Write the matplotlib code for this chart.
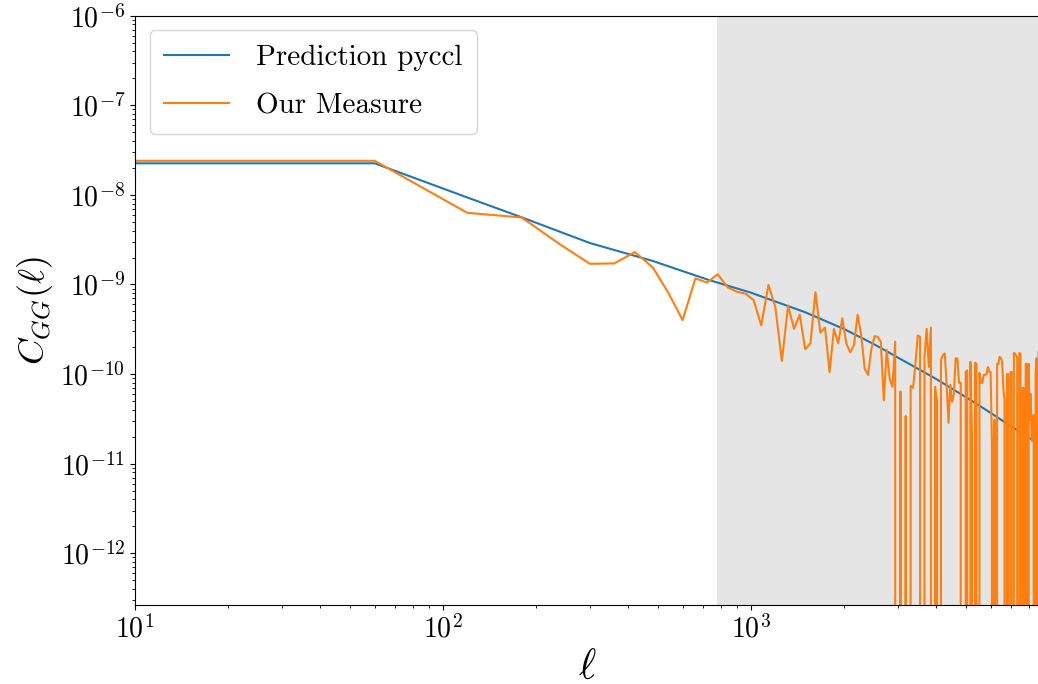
import matplotlib
matplotlib.use('Agg')
import numpy as np
import matplotlib.pyplot as plt

# --- style: LaTeX-like look with Computer Modern ---
plt.rcParams['font.family'] = 'serif'
plt.rcParams['font.serif'] = ['cmr10']
plt.rcParams['mathtext.fontset'] = 'cm'
plt.rcParams['axes.formatter.use_mathtext'] = True
plt.rcParams['axes.unicode_minus'] = False

# --- data ---
# prediction (pyccl), smooth curve
ell_pred = [0, 60, 120, 180, 300, 480, 720, 1000, 1500, 2000, 2500, 3000,
            4000, 5000, 6000, 7000, 8700]
cl_pred = [2.25e-8, 2.25e-8, 9.35e-9, 5.62e-9, 2.9e-9, 1.83e-9, 1.14e-9,
           8.1e-10, 4.9e-10, 3.2e-10, 2.17e-10, 1.53e-10, 8.8e-11, 5.5e-11,
           3.7e-11, 2.6e-11, 1.62e-11]

# measured spectrum, bins of width 60 in ell (negative values fall off the log axis)
ell_meas = np.arange(0, 8701, 60)
cl_meas = [
    2.4e-8, 2.4e-8, 6.3e-9, 5.6e-9, 2.8e-9, 1.7e-9, 1.72e-9, 2.3e-9, 1.55e-9, 8.0e-10,
    4.0e-10, 1.17e-9, 1.05e-9, 1.3e-9, 9.3e-10, 8.3e-10, 7.9e-10, 6.7e-10, 3.5e-10, 9.9e-10,
    5.6e-10, 1.4e-10, 5.8e-10, 3.2e-10, 4.6e-10, 1.9e-10, 2.2e-10, 8.2e-10, 2.9e-10, 3.3e-10,
    1.05e-10, 3.2e-10, 2.2e-10, 4.2e-10, 2.2e-10, 1.75e-10, 2.1e-10, 4.6e-10, 2.75e-10, 1.15e-10,
    9.8e-11, 1.9e-10, 2.65e-10, 2.6e-10, 2.3e-10, 5.1e-11, 1.86e-10, 9.0e-11, 7.2e-11, 2.3e-10,
    -5e-11, 6.4e-11, -3e-11, 3.4e-11, -4e-11, 7.4e-11, 7.0e-11, 1.3e-10, 2.7e-10, 2.6e-10,
    -2e-11, 1.56e-10, 3.2e-10, 1.2e-10, 3.3e-10, -6e-11, 7.2e-11, 5.1e-11, -3e-11, 1.44e-10,
    1.63e-10, 1.7e-10, 7.6e-11, 2.85e-11, 7.6e-11, 4.9e-11, 6e-11, 1.5e-10, 1.5e-10, 8e-11,
    8e-11, -4e-11, -2e-11, 1.06e-10, 1.1e-10, -5e-11, 1.37e-10, 2.0e-11, -3e-11, 1.34e-10,
    1.3e-10, -2e-11, 1.03e-10, 8e-11, 8e-11, 9.8e-11, 9.8e-11, 1.0e-10, 1.2e-10, 1.06e-10,
    1.06e-10, 1.7e-11, -4e-11, 3.1e-11, -3e-11, 1.3e-10, 1.3e-10, 1.56e-10, 1.5e-10, 1.4e-10,
    7e-11, 5.1e-11, -5e-11, 1.0e-10, 1.0e-10, -2e-11, 1.05e-10, 1.06e-10, -3e-11, 1.72e-10,
    1.7e-10, 1.6e-10, 1.56e-10, -4e-11, 1.72e-10, 1.7e-10, -2e-11, 7e-11, 7e-11, -3e-11,
    1.3e-10, 1.3e-10, -5e-11, 1.3e-10, 3.1e-11, 6e-11, 1.8e-11, 2e-11, 3.5e-11, -4e-11,
    1e-10, 1.5e-10, -2e-11, 1.78e-10, 1.8e-10, 1.6e-10,
]

ell_cut = 775   # start of the shaded (excluded) scales
x_lim = (10, 8700)
y_lim = (2.65e-13, 1e-6)

# --- figure ---
fig = plt.figure(figsize=(10.38, 6.84), dpi=100)
ax = fig.add_axes([0.1301, 0.1155, 0.8721, 0.8616])

ax.set_xscale('log')
ax.set_yscale('log')

ax.axvspan(ell_cut, x_lim[1], color='grey', alpha=0.2, lw=0)
ax.plot(ell_pred, cl_pred, color='tab:blue', lw=1.5, label='Prediction pyccl')
ax.plot(ell_meas, cl_meas, color='tab:orange', lw=1.5, label='Our Measure')

ax.set_xlim(*x_lim)
ax.set_ylim(*y_lim)

ax.set_xlabel(r'$\ell$', fontsize=30)
ax.set_ylabel(r'$C_{GG}(\ell)$', fontsize=26)
ax.tick_params(axis='both', which='major', labelsize=20)

ax.legend(loc='upper left', fontsize=21, handlelength=2.23, handletextpad=0.92,
          labelspacing=0.75, borderpad=0.5)

fig.savefig('out.png', dpi=100)
